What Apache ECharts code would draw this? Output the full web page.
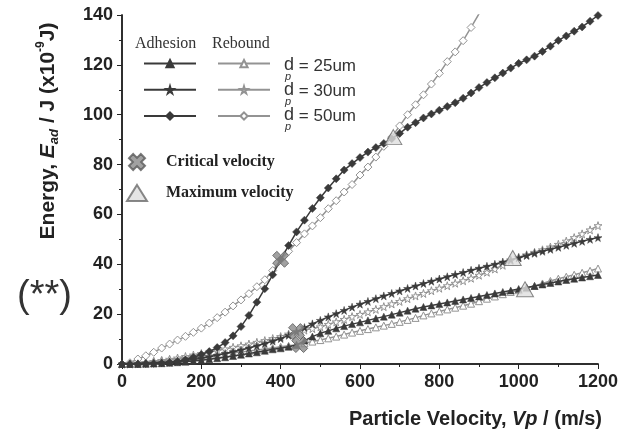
<!DOCTYPE html>
<html>
<head>
<meta charset="utf-8">
<script src="https://cdn.jsdelivr.net/npm/echarts@6/dist/echarts.min.js"></script>
<style>
  html, body { margin: 0; padding: 0; background: #fff; }
  #chart { width: 628px; height: 437px; }
</style>
</head>
<body>
<div id="chart"></div>
<script>
// particle velocity (m/s), one point every 20 m/s
const velocity = [0, 20, 40, 60, 80, 100, 120, 140, 160, 180, 200, 220, 240, 260, 280, 300, 320, 340, 360, 380,
  400, 420, 440, 460, 480, 500, 520, 540, 560, 580, 600, 620, 640, 660, 680, 700, 720, 740, 760, 780,
  800, 820, 840, 860, 880, 900, 920, 940, 960, 980, 1000, 1020, 1040, 1060, 1080, 1100, 1120, 1140, 1160, 1180, 1200];

// energy (x10^-9 J)
const adh25 = [0, 0, 0, 0.1, 0.2, 0.3, 0.5, 0.7, 0.9, 1.2, 1.5, 1.9, 2.3, 2.7, 3.2, 3.7, 4.2, 4.7, 5.3, 5.9,
  6.3, 6.9, 7.6, 9.4, 11, 12.3, 13.3, 14.3, 15.2, 16, 16.7, 17.5, 18.3, 19, 19.8, 20.6, 21.4, 22.2, 22.9, 23.5,
  24.1, 24.7, 25.3, 25.9, 26.5, 27.1, 27.7, 28.3, 28.9, 29.5, 30.1, 30.7, 31.3, 31.9, 32.5, 33.1, 33.7, 34.2, 34.7, 35.2, 35.7];
const reb25 = [0, 0.3, 0.6, 0.9, 1.2, 1.5, 1.8, 2.1, 2.4, 2.8, 3.1, 3.4, 3.8, 4.1, 4.5, 4.8, 5.2, 5.6, 6, 6.4,
  6.9, 7.3, 7.7, 8.3, 9, 9.6, 10.3, 11, 11.8, 12.6, 13.3, 14, 14.7, 15.4, 16.1, 16.9, 17.7, 18.5, 19.5, 20.3,
  21.1, 21.9, 22.6, 23.4, 24.2, 25.2, 26.2, 27.1, 28, 28.9, 29.6, 30.4, 31.3, 32.3, 33.3, 34.2, 35, 35.8, 36.6, 37.4, 38.3];
const adh30 = [0, 0, 0.1, 0.2, 0.3, 0.5, 0.7, 1, 1.4, 1.8, 2.3, 2.9, 3.5, 4.2, 4.9, 5.6, 6.4, 7.3, 8.2, 9.2,
  10.2, 11.5, 13, 14.6, 16.1, 17.5, 18.9, 20.2, 21.5, 22.8, 24, 25.1, 26.2, 27.3, 28.3, 29.3, 30.3, 31.3, 32.3, 33.2,
  34.1, 35, 35.9, 36.7, 37.6, 38.4, 39.2, 40, 40.9, 41.8, 42.6, 43.5, 44.4, 45.2, 46, 46.8, 47.6, 48.4, 49.2, 50, 50.7];
const reb30 = [0, 0.1, 0.3, 0.6, 1, 1.4, 1.9, 2.4, 3, 3.6, 4.2, 4.8, 5.4, 6, 6.7, 7.3, 8, 8.7, 9.4, 10.2,
  11, 12, 13, 13.6, 14.2, 14.9, 15.9, 16.9, 17.9, 19, 19.9, 20.9, 21.9, 23, 24.1, 25.1, 26.2, 27.3, 28.3, 29.4,
  30.4, 31.4, 32.4, 33.4, 34.4, 35.6, 36.8, 38.1, 39.6, 41.5, 42.8, 43.8, 44.8, 45.8, 46.9, 48, 49.3, 50.7, 52.2, 53.8, 55.5];
const adh50 = [0, 0, 0, 0.1, 0.2, 0.4, 0.7, 1.1, 1.7, 2.7, 3.8, 5, 6.6, 8.6, 11.3, 15, 19.5, 24.8, 30.2, 35.8,
  42, 47.5, 53, 57.7, 62.4, 66.7, 70.6, 74.3, 77.8, 80.4, 82.8, 85, 86.8, 88.5, 90.4, 92.5, 95, 96.8, 98.7, 100.3,
  101.8, 103.3, 104.8, 106.6, 108.7, 110.9, 112.9, 114.8, 116.7, 118.7, 120.6, 122, 123.5, 125.4, 127.5, 129.8, 131.6, 133.5, 135.2, 137.5, 139.8];
const reb50 = [0, 0.5, 2, 3.3, 4.7, 6.4, 8, 9.6, 11.1, 12.7, 14.4, 16.4, 18.6, 20.8, 23.3, 25.7, 28.2, 31, 33.8, 37.5,
  41.8, 45.2, 48.7, 52.2, 55.4, 58.7, 62.3, 65.5, 69, 72, 75.8, 79, 83, 87.3, 91, 95.5, 100, 104, 108, 112.3,
  116.6, 121.3, 125.2, 129.7, 135, 140.5];

// critical / maximum velocity points [velocity, energy]
const criticalPts = [[400, 42], [440, 13], [448, 7.8]];
const maximumPts = [[684, 91], [985, 42.5], [1016, 30]];

const sizeLabels = ['25um', '30um', '50um'];

const starPath = 'path://M50,0 L61,35 L98,35 L68,57 L79,91 L50,70 L21,91 L32,57 L2,35 L39,35 Z';
const crossPath = 'path://M0,2.6 L2.6,0 L5,2.4 L7.4,0 L10,2.6 L7.6,5 L10,7.4 L7.4,10 L5,7.6 L2.6,10 L0,7.4 L2.4,5 Z';

function pairs(vals) {
    return vals.map((e, i) => [velocity[i], e]);
}

const chartDom = document.getElementById('chart');
const myChart = echarts.init(chartDom, null, { renderer: 'canvas' });

const darkCol = '#3a3a3a';
const lightCol = '#939393';

function lineSeries(name, vals, symbol, size, adhesion) {
    return {
        name: name,
        type: 'line',
        data: pairs(vals),
        symbol: symbol,
        symbolSize: size,
        showAllSymbol: true,
        animation: false,
        lineStyle: { color: adhesion ? darkCol : lightCol, width: 1.5 },
        itemStyle: adhesion
            ? { color: darkCol, borderColor: darkCol, borderWidth: 0.5 }
            : { color: '#ffffff', borderColor: lightCol, borderWidth: 1 },
        z: adhesion ? 3 : 2
    };
}

const axisFont = { fontFamily: 'Liberation Sans', fontSize: 18, fontWeight: 'bold', color: '#222' };
const xNameFont = { fontFamily: 'Liberation Sans', fontSize: 20, fontWeight: 'bold' };
const yNameFont = { fontFamily: 'Liberation Sans', fontSize: 21, fontWeight: 'bold' };

let option = {
    backgroundColor: '#fff',
    animation: false,
    grid: { left: 122, right: 30, top: 15, bottom: 73 },
    xAxis: [
        {
            type: 'value', min: 0, max: 1200, interval: 200,
            axisLine: { lineStyle: { color: '#222', width: 1.5 } },
            axisTick: { inside: false, length: 5, lineStyle: { color: '#222' } },
            minorTick: { show: true, splitNumber: 2, length: 3, lineStyle: { color: '#222' } },
            splitLine: { show: false },
            axisLabel: Object.assign({ margin: 9, formatter: v => String(v) }, axisFont),
            name: '{n|Particle Velocity, }{i|Vp}{n| / (m/s)}',
            nameLocation: 'end',
            nameGap: 4,
            nameTextStyle: {
                align: 'right', verticalAlign: 'top', padding: [45, 0, 0, 0],
                rich: {
                    n: Object.assign({ color: '#222' }, xNameFont),
                    i: Object.assign({ color: '#222', fontStyle: 'italic' }, xNameFont)
                }
            }
        },
        {
            type: 'value', min: 0, max: 1200, interval: 200, position: 'top',
            axisLine: { lineStyle: { color: '#222', width: 1.5 } },
            axisTick: { inside: true, length: 5, lineStyle: { color: '#222' } },
            minorTick: { show: true, splitNumber: 2, length: 3, lineStyle: { color: '#222' } },
            splitLine: { show: false },
            axisLabel: { show: false }
        }
    ],
    yAxis: [
        {
            type: 'value', min: 0, max: 140, interval: 20,
            axisLine: { show: true, lineStyle: { color: '#222', width: 1.5 } },
            axisTick: { show: true, inside: false, length: 5, lineStyle: { color: '#222' } },
            minorTick: { show: true, splitNumber: 2, length: 3, lineStyle: { color: '#222' } },
            splitLine: { show: false },
            axisLabel: Object.assign({ margin: 9 }, axisFont)
        },
        {
            type: 'value', min: 0, max: 140, interval: 20, position: 'right',
            axisLine: { show: true, lineStyle: { color: '#222', width: 1.5 } },
            axisTick: { show: true, inside: true, length: 5, lineStyle: { color: '#222' } },
            minorTick: { show: true, splitNumber: 2, length: 3, lineStyle: { color: '#222' } },
            splitLine: { show: false },
            axisLabel: { show: false }
        }
    ],
    legend: [
        {
            data: ['Adhesion d25', 'Adhesion d30', 'Adhesion d50'],
            orient: 'vertical', left: 138, top: 54,
            itemWidth: 52, itemHeight: 9, itemGap: 17,
            formatter: () => '',
            textStyle: { fontSize: 9, lineHeight: 9 },
            selectedMode: false
        },
        {
            data: ['Rebound d25', 'Rebound d30', 'Rebound d50'],
            orient: 'vertical', left: 212, top: 54,
            itemWidth: 52, itemHeight: 9, itemGap: 17,
            formatter: () => '',
            textStyle: { fontSize: 9, lineHeight: 9 },
            selectedMode: false
        },
        {
            data: ['Critical velocity', 'Maximum velocity'],
            orient: 'vertical', left: 121, top: 148,
            itemWidth: 20, itemHeight: 16, itemGap: 13,
            textStyle: { fontFamily: 'Liberation Serif', fontSize: 16, fontWeight: 'bold', color: '#222', padding: [0, 0, 0, 14] },
            selectedMode: false
        }
    ],
    graphic: [
        {
            type: 'text', left: 135, top: 36,
            style: { text: 'Adhesion', font: '16px "Liberation Serif"', fill: '#333' }
        },
        {
            type: 'text', left: 212, top: 36,
            style: { text: 'Rebound', font: '16px "Liberation Serif"', fill: '#333' }
        },
        ...sizeLabels.map((lab, i) => ({
            type: 'text', left: 284, top: 56 + i * 25,
            style: {
                text: '{d|d}{p|p}{t| = ' + lab + '}',
                rich: {
                    d: { fontFamily: 'Liberation Sans', fontSize: 18, fill: '#333', lineHeight: 26, verticalAlign: 'top' },
                    p: { fontFamily: 'Liberation Sans', fontSize: 11, fontStyle: 'italic', fill: '#333', lineHeight: 26, verticalAlign: 'bottom', padding: [0, 0, 0, -9] },
                    t: { fontFamily: 'Liberation Sans', fontSize: 17, fill: '#333', lineHeight: 26, verticalAlign: 'top', padding: [2, 0, 0, 3] }
                }
            }
        })),
        {
            type: 'text', x: 48, y: 131, rotation: Math.PI / 2,
            style: {
                text: '{n|Energy, }{i|E}{s|ad}{n| / J (x10}{u|-9}{n|J)}',
                align: 'center', verticalAlign: 'middle',
                rich: {
                    n: Object.assign({ fill: '#222', lineHeight: 26, verticalAlign: 'middle' }, yNameFont),
                    i: Object.assign({ fill: '#222', lineHeight: 26, verticalAlign: 'middle', fontStyle: 'italic' }, yNameFont),
                    s: { fontFamily: 'Liberation Sans', fontSize: 13, fontWeight: 'bold', fontStyle: 'italic', fill: '#222', lineHeight: 26, verticalAlign: 'bottom' },
                    u: { fontFamily: 'Liberation Sans', fontSize: 12, fontWeight: 'bold', fill: '#222', lineHeight: 26, verticalAlign: 'top' }
                }
            }
        },
        {
            type: 'text', left: 17, top: 278,
            style: { text: '(**)', font: '38px "Liberation Sans"', fill: '#333' }
        }
    ],
    series: [
        lineSeries('Adhesion d25', adh25, 'triangle', 7, true),
        lineSeries('Adhesion d30', adh30, starPath, 8, true),
        lineSeries('Adhesion d50', adh50, 'diamond', 8, true),
        lineSeries('Rebound d25', reb25, 'triangle', 7, false),
        lineSeries('Rebound d30', reb30, starPath, 8, false),
        lineSeries('Rebound d50', reb50, 'diamond', 8, false),
        {
            name: 'Critical velocity',
            type: 'scatter',
            data: criticalPts,
            symbol: crossPath,
            symbolSize: 16,
            itemStyle: { color: '#8a8a8a', borderColor: '#5a5a5a', borderWidth: 1 },
            z: 5
        },
        {
            name: 'Maximum velocity',
            type: 'scatter',
            data: maximumPts,
            symbol: 'triangle',
            symbolSize: [17, 15],
            itemStyle: { color: '#dedede', borderColor: '#6a6a6a', borderWidth: 1 },
            z: 5
        }
    ]
};

myChart.setOption(option);
</script>
</body>
</html>
